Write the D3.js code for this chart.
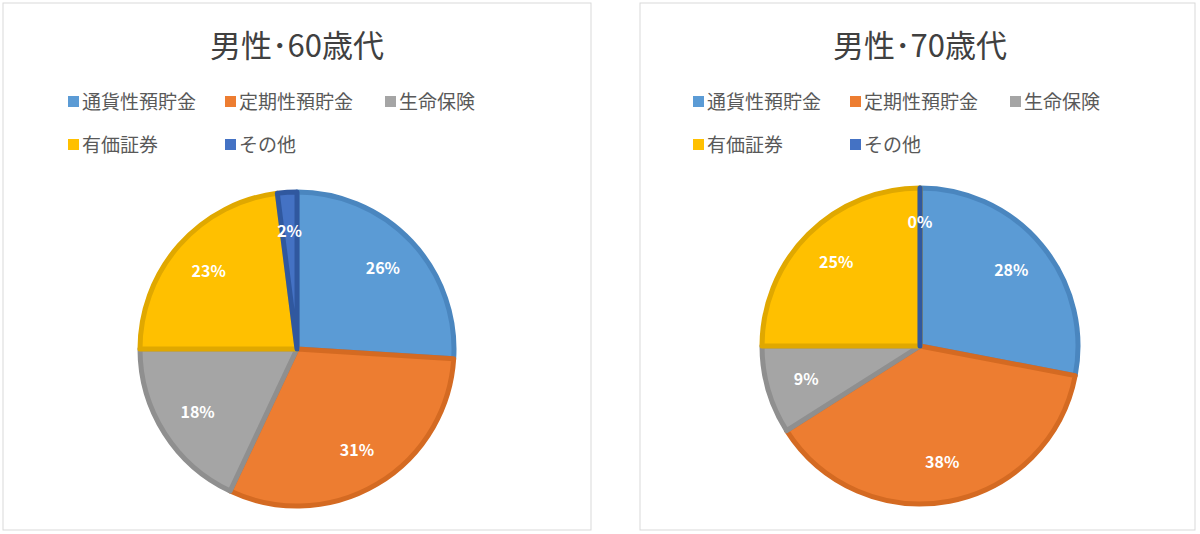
<!DOCTYPE html>
<html><head><meta charset="utf-8">
<script src="https://cdn.jsdelivr.net/npm/d3@7"></script>
<style>body{margin:0;background:#fff}svg{font-family:"Noto Sans CJK JP","Noto Sans",sans-serif}</style>
</head><body><svg id="c" width="1200" height="534"></svg>
<script>
const categories = ['通貨性預貯金', '定期性預貯金', '生命保険', '有価証券', 'その他'];
const colors = ['#5b9bd5', '#ed7d31', '#a5a5a5', '#ffc000', '#4472c4'];
const strokes = ['#4a86bf', '#d46a22', '#8f8f8f', '#e0a800', '#30589f'];
const titles = ['男性･60歳代', '男性･70歳代'];
const values60 = [26, 31, 18, 23, 2];
const values70 = [28, 38, 9, 25, 0];

const svg = d3.select('#c');
const panels = [
  {x: 3, w: 588, cx: 297, cy: 349, r: 157, lx: 68, title: titles[0], vals: values60},
  {x: 640, w: 555, cx: 920, cy: 346, r: 158, lx: 693, title: titles[1], vals: values70}
];
const legendPos = [[0, 0], [157, 0], [317, 0], [0, 43], [157, 43]];

panels.forEach(p => {
  const g = svg.append('g');
  g.append('rect').attr('x', p.x).attr('y', 3).attr('width', p.w).attr('height', 527)
    .attr('fill', '#fff').attr('stroke', '#d9d9d9');
  g.append('text').attr('x', p.cx).attr('y', 57).attr('text-anchor', 'middle')
    .attr('font-size', 31).attr('fill', '#404040').text(p.title);

  categories.forEach((c, i) => {
    const lg = g.append('g').attr('transform', `translate(${p.lx + legendPos[i][0]},${102 + legendPos[i][1]})`);
    lg.append('rect').attr('x', 0).attr('y', -6).attr('width', 11).attr('height', 11).attr('fill', colors[i]);
    lg.append('text').attr('x', 14).attr('y', 7).attr('font-size', 19).attr('fill', '#595959').text(c);
  });

  const pie = d3.pie().sort(null)(p.vals);
  const arc = d3.arc().innerRadius(0).outerRadius(p.r);
  const lab = d3.arc().innerRadius(p.r * 0.75).outerRadius(p.r * 0.75);
  const pg = g.append('g').attr('transform', `translate(${p.cx},${p.cy})`);
  pg.selectAll('path').data(pie).join('path')
    .attr('d', arc).attr('fill', (d, i) => colors[i])
    .attr('stroke', (d, i) => strokes[i]).attr('stroke-width', 5).attr('stroke-linejoin', 'round');
  pg.selectAll('text').data(pie).join('text')
    .attr('transform', d => {
      let [x, y] = lab.centroid(d);
      if (d.value === 0) { x = 0; y = -p.r * 0.78; }
      return `translate(${x},${y})`;
    })
    .attr('text-anchor', 'middle').attr('dy', '0.35em')
    .attr('font-size', 16).attr('font-weight', 'bold').attr('fill', '#fff')
    .text(d => d.value + '%');
});
</script></body></html>
